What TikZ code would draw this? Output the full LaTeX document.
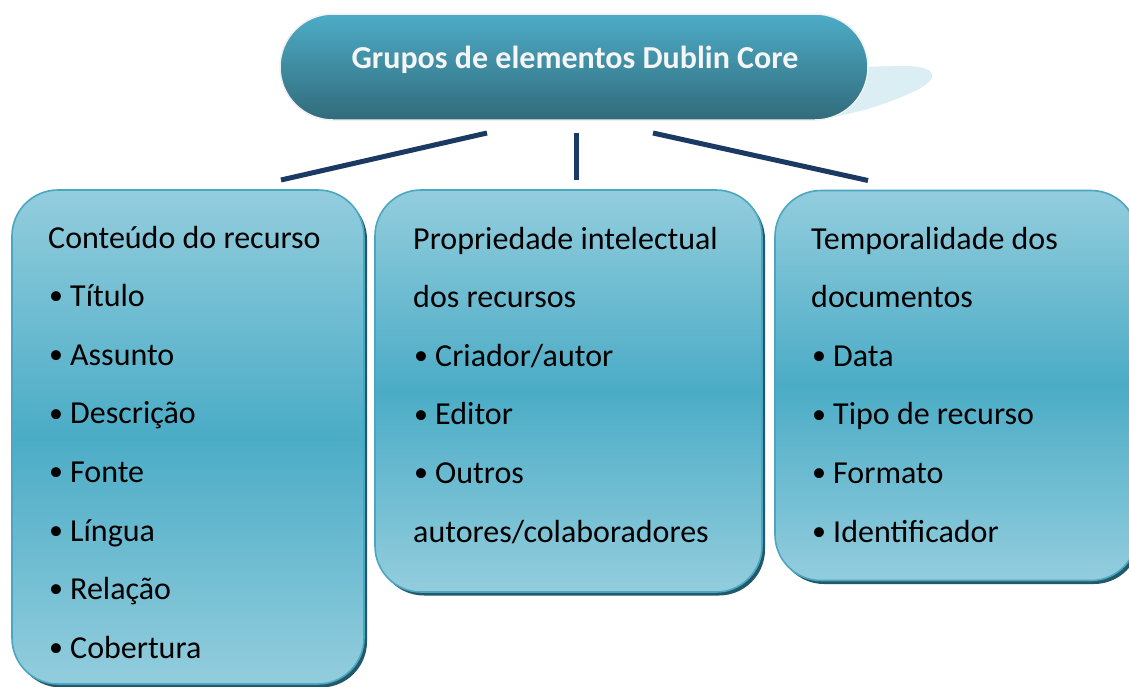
\documentclass[tikz,border=0pt]{standalone}
\usepackage{fontspec}
\setmainfont{Carlito}
\usetikzlibrary{calc,shadows}
\definecolor{boxlight}{HTML}{93CDDD}
\definecolor{boxmid}{HTML}{4BACC6}
\definecolor{boxborder}{HTML}{4AA7C2}
\definecolor{boxshadow}{HTML}{22596A}
\definecolor{titletop}{HTML}{4DACC7}
\definecolor{titlebot}{HTML}{316B7B}
\definecolor{refl}{HTML}{DAEEF4}
\definecolor{conn}{HTML}{1B3A63}
\newcommand\itembul{\makebox[22pt][l]{\hspace{1pt}\raisebox{1.8pt}{\fontsize{28}{28}\selectfont •}}}
\tikzset{
  groupbox/.style={rectangle, rounded corners=46pt, inner sep=0pt, outer sep=0pt,
    draw=boxborder, line width=1.6pt,
    top color=boxlight, bottom color=boxlight, middle color=boxmid,
    drop shadow={shadow xshift=3pt, shadow yshift=-3.5pt, fill=boxshadow, opacity=1}},
  titlebox/.style={rectangle, rounded corners=53pt, inner sep=0pt, outer sep=0pt,
    draw=white!94!black, line width=1.5pt,
    top color=titletop, bottom color=titlebot,
    minimum width=588pt, minimum height=106pt},
  titletxt/.style={anchor=base, text=white!96!black, font=\fontsize{32}{38}\selectfont\bfseries, inner sep=0pt},
  itemtxt/.style={anchor=base west, text=black, font=\fontsize{32}{38}\selectfont, inner sep=0pt},
  connector/.style={draw=conn, line width=5pt}
}
\begin{document}
\begin{tikzpicture}[x=1pt,y=-1pt]
\clip (0,0) rectangle (1129,686);
\fill[white] (0,0) rectangle (1129,686);
% reflection behind title
\fill[refl] (800,68) -- (905,66) .. controls (936,66) and (942,78) .. (915,91)
  .. controls (885,105) and (850,116) .. (815,119) -- cycle;
% title
\node[titlebox] (title) at (574,67) {};
\node[titletxt] (titletext) at (575,68) {Grupos de elementos Dublin Core};
% boxes
\node[groupbox, minimum width=352pt, minimum height=494pt] (box1) at (188,437) {};
\node[groupbox, minimum width=387pt, minimum height=402pt] (box2) at (568.5,391) {};
\node[groupbox, minimum width=362pt, minimum height=390pt] (box3) at (956,385.5) {};
% connectors
\coordinate (c1s) at ($(title.south)+(-87,13)$);
\coordinate (c1e) at ($(box1.north)+(93,-10)$);
\coordinate (c2s) at ($(title.south)+(2,13)$);
\coordinate (c2e) at ($(box2.north)+(7.5,-10)$);
\coordinate (c3s) at ($(title.south)+(79,13)$);
\coordinate (c3e) at ($(box3.north)+(-88,-10)$);
\draw[connector] (c1s) -- (c1e);
\draw[connector] (c2s) -- (c2e);
\draw[connector] (c3s) -- (c3e);
% texts
\foreach [count=\i] \t in {Conteúdo do recurso, \itembul Título, \itembul Assunto, \itembul Descrição, \itembul Fonte, \itembul Língua, \itembul Relação, \itembul Cobertura}
  \node[itemtxt] (a\i) at (48,{248+58.6*(\i-1)}) {\t};
\foreach [count=\i] \t in {Propriedade intelectual, dos recursos, \itembul Criador/autor, \itembul Editor, \itembul Outros, autores/colaboradores}
  \node[itemtxt] (b\i) at (413,{249+58.6*(\i-1)}) {\t};
\foreach [count=\i] \t in {Temporalidade dos, documentos, \itembul Data, \itembul Tipo de recurso, \itembul Formato, \itembul Identificador}
  \node[itemtxt] (c\i) at (811,{249+58.6*(\i-1)}) {\t};
\end{tikzpicture}
\end{document}
